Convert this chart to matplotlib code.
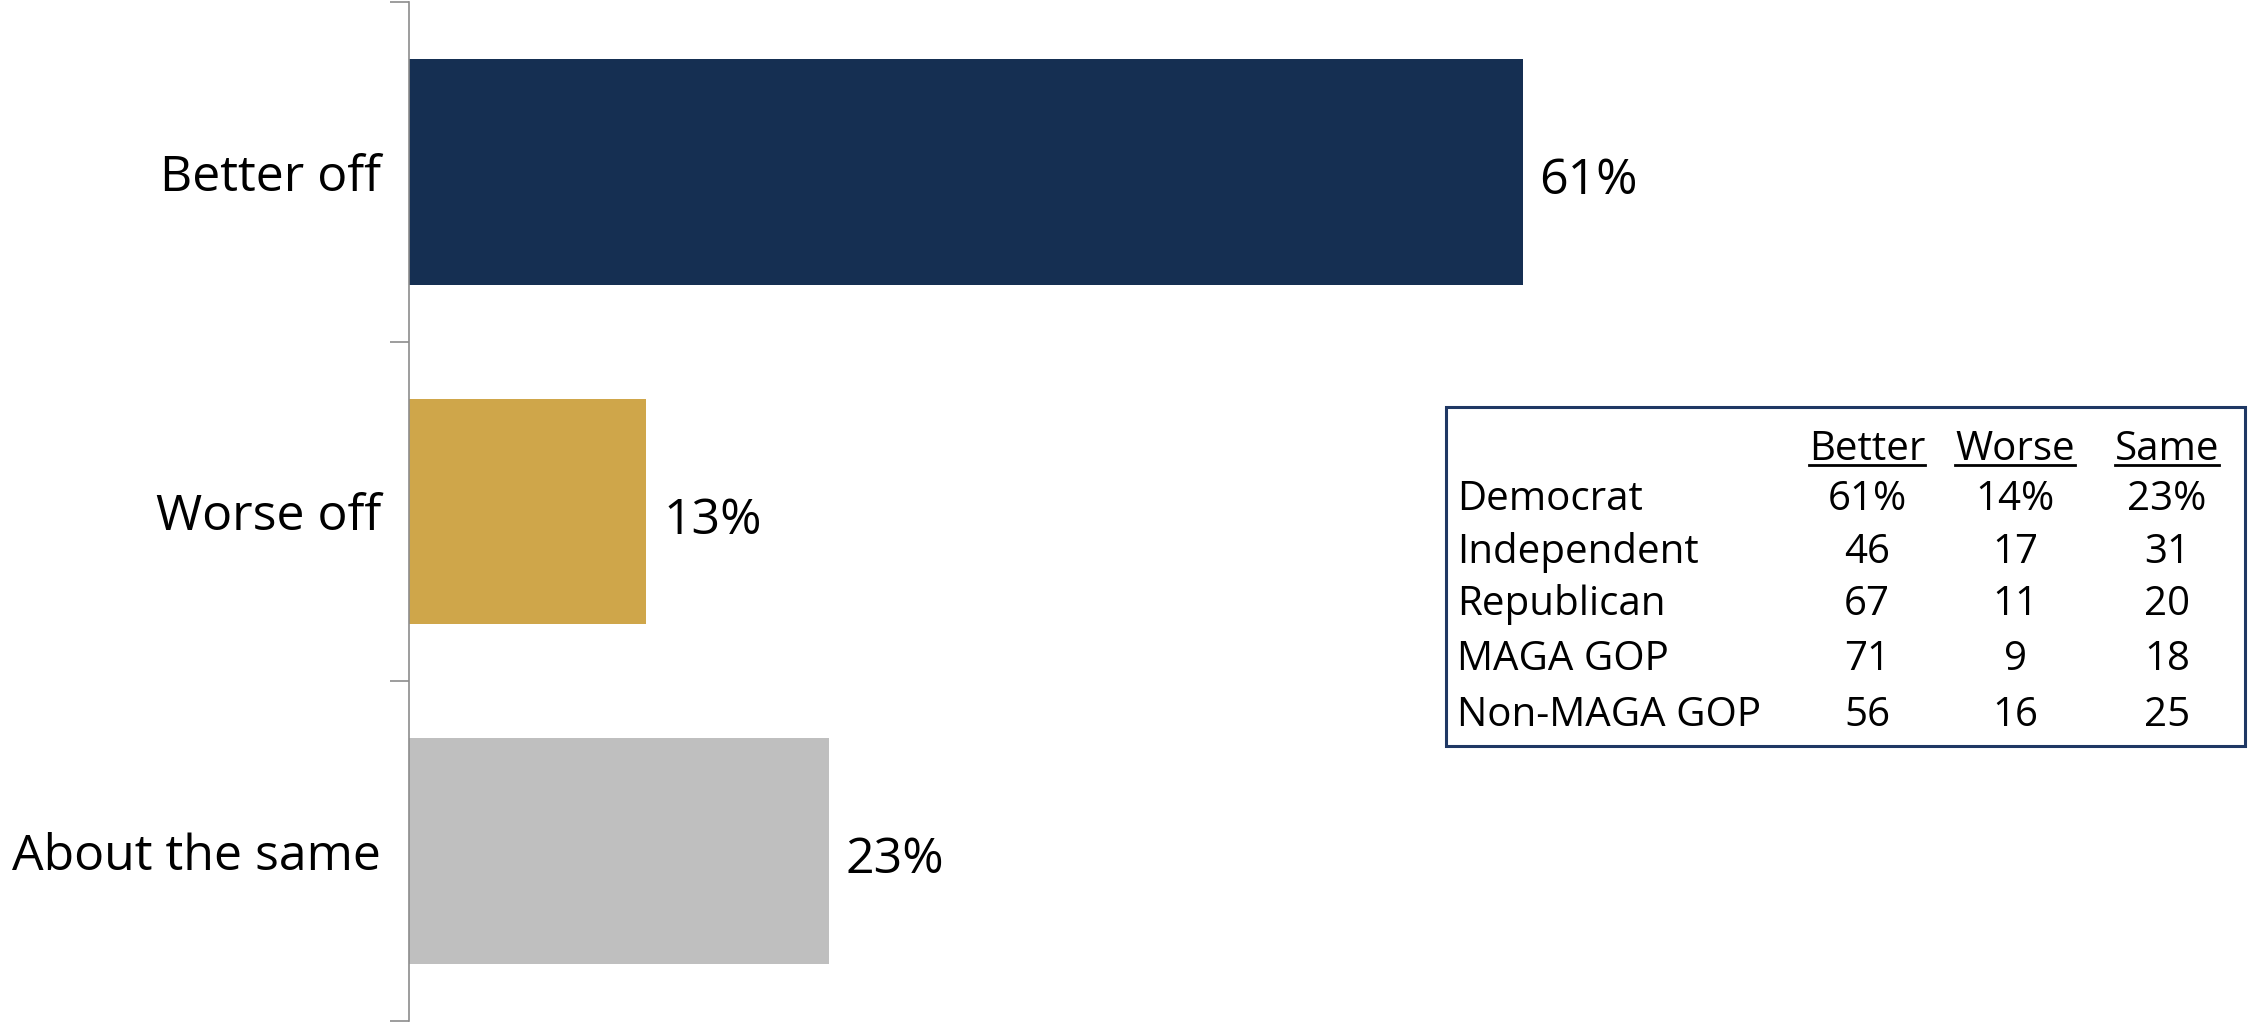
import matplotlib
matplotlib.use("Agg")
import matplotlib.pyplot as plt
from matplotlib.patches import Rectangle
from matplotlib.lines import Line2D

plt.rcParams['font.family'] = ['Open Sans', 'DejaVu Sans']

# main bars
categories = ['Better off', 'Worse off', 'About the same']
values = [61, 13, 23]
colors = ['#152F52', '#CFA64A', '#BFBFBF']

# party breakdown table
tbl_headers = ['Better', 'Worse', 'Same']
tbl_rows = ['Democrat', 'Independent', 'Republican', 'MAGA GOP', 'Non-MAGA GOP']
tbl_better = ['61%', '46', '67', '71', '56']
tbl_worse = ['14%', '17', '11', '9', '16']
tbl_same = ['23%', '31', '20', '18', '25']

W, H = 2248, 1023
fig = plt.figure(figsize=(W / 100, H / 100), dpi=100)

ax_left = 409
px_per_unit = 18.26
ax = fig.add_axes([ax_left / W, 2 / H, 100 * px_per_unit / W, 1019 / H])

y = list(range(len(categories)))
bars = ax.barh(y, values, height=0.665, color=colors)
ax.set_xlim(0, 100)
ax.set_ylim(len(categories) - 0.5, -0.5)

for b, v in zip(bars, values):
    ax.annotate(f'{v}%', (b.get_width(), b.get_y() + b.get_height() / 2),
                xytext=(12, -16), textcoords='offset points',
                va='baseline', ha='left', fontsize=36)

for s in ['top', 'right', 'bottom']:
    ax.spines[s].set_visible(False)
ax.spines['left'].set_color('#8C8C8C')
ax.spines['left'].set_linewidth(1.2)
ax.set_xticks([])
ax.set_yticks(y)
ax.set_yticklabels(categories, fontsize=36)
ax.tick_params(axis='y', which='major', length=0, pad=20)
ax.set_yticks([-0.5, 0.5, 1.5, 2.5], minor=True)
ax.tick_params(axis='y', which='minor', length=14, color='#8C8C8C', width=1.2)


def fx(px):
    return px / W


def fy(py):
    return 1 - py / H


# table box
box = Rectangle((fx(1446), fy(746)), fx(2245) - fx(1446), fy(407) - fy(746),
                transform=fig.transFigure, fill=False, edgecolor='#1F3864',
                linewidth=2.2)
fig.add_artist(box)

col_x = [1867, 2015, 2167]
row_base = [510, 563, 615, 670, 726]
head_base = 460
tsize = 29

fig.canvas.draw()
renderer = fig.canvas.get_renderer()
for cx, h in zip(col_x, tbl_headers):
    t = fig.text(fx(cx), fy(head_base), h, ha='center', va='baseline', fontsize=tsize)
    bb = t.get_window_extent(renderer=renderer)
    fig.add_artist(Line2D([bb.x0 / W, bb.x1 / W], [fy(head_base + 5)] * 2,
                          transform=fig.transFigure, color='black', linewidth=2))

for i, name in enumerate(tbl_rows):
    yy = fy(row_base[i])
    fig.text(fx(1457), yy, name, ha='left', va='baseline', fontsize=tsize)
    for cx, col in zip(col_x, [tbl_better, tbl_worse, tbl_same]):
        fig.text(fx(cx), yy, col[i], ha='center', va='baseline', fontsize=tsize)

fig.savefig('out.png', dpi=100)
